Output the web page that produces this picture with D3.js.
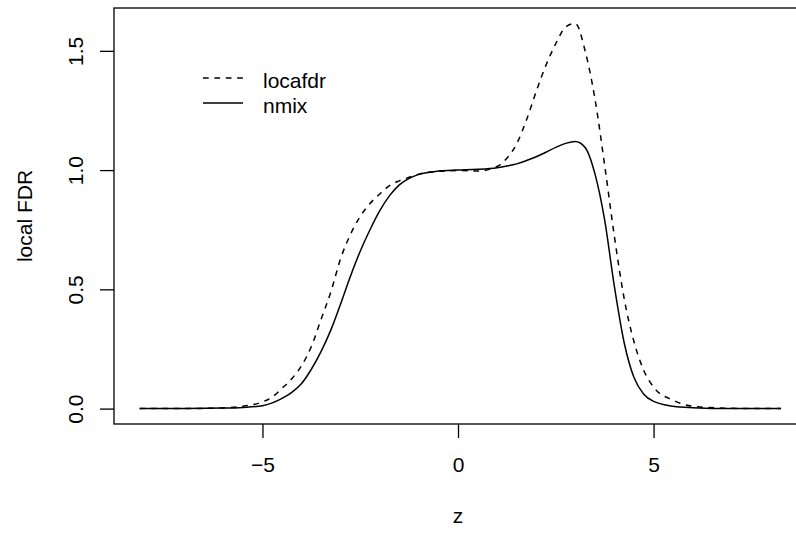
<!DOCTYPE html>
<html>
<head>
<meta charset="utf-8">
<script src="https://cdn.jsdelivr.net/npm/d3@7"></script>
<style>
  body { margin: 0; background: #fff; }
  text { font-family: "Liberation Sans", Arial, sans-serif; fill: #000; }
</style>
</head>
<body>
<div class="chart"></div>
<script>
// values
var zValues = [-8.14, -7, -6, -5.5, -5, -4.75, -4.5, -4.25, -4, -3.75, -3.5, -3.25, -3, -2.75,
  -2.5, -2.25, -2, -1.75, -1.5, -1.25, -1, -0.5, 0, 0.5, 1, 1.25, 1.5, 1.75, 2, 2.25, 2.5,
  2.75, 3, 3.25, 3.5, 3.75, 4, 4.25, 4.5, 4.75, 5, 5.5, 6, 7, 8.26];

var locfdrValues = [0, 0, 0.003, 0.01, 0.028, 0.048, 0.085, 0.125, 0.18, 0.26, 0.375, 0.49, 0.63, 0.73,
  0.806, 0.86, 0.9, 0.935, 0.955, 0.97, 0.983, 0.995, 0.998, 0.996, 1.015, 1.05, 1.11, 1.21, 1.33, 1.44, 1.53,
  1.60, 1.615, 1.50, 1.30, 1.02, 0.72, 0.46, 0.28, 0.16, 0.09, 0.035, 0.01, 0.001, 0];

var nmixValues = [0, 0, 0.002, 0.005, 0.012, 0.024, 0.043, 0.068, 0.105, 0.165, 0.24, 0.33, 0.44, 0.555,
  0.66, 0.75, 0.83, 0.893, 0.938, 0.965, 0.982, 0.996, 1.0, 1.003, 1.01, 1.017, 1.026, 1.04, 1.056, 1.075, 1.095,
  1.112, 1.12, 1.095, 0.985, 0.79, 0.51, 0.275, 0.13, 0.06, 0.03, 0.01, 0.004, 0, 0];

var seriesNames = ["locafdr", "nmix"];
var xTicks = [-5, 0, 5];
var yTicks = [0, 0.5, 1, 1.5];

var svgWidth = 796;
var svgHeight = 533;
var plot = { left: 114, top: 8, bottom: 424 };
var fontSize = 21;

var svg = d3.select(".chart")
  .append("svg")
  .attr("width", svgWidth)
  .attr("height", svgHeight);

// R style 4% padding around the data range
var xExt = d3.extent(zValues);
var xPad = (xExt[1] - xExt[0]) * 0.04;
var yMax = d3.max(locfdrValues.concat(nmixValues));
var yPad = yMax * 0.04;

var xDomain = [xExt[0] - xPad, xExt[1] + xPad];
var pxPerUnit = 39.11;
var plotRight = plot.left + (xDomain[1] - xDomain[0]) * pxPerUnit;

var x = d3.scaleLinear().domain(xDomain).range([plot.left, plotRight]);
var y = d3.scaleLinear().domain([-yPad, yMax + yPad]).range([plot.bottom, plot.top]);

// box
svg.append("rect")
  .attr("x", plot.left)
  .attr("y", plot.top)
  .attr("width", plotRight - plot.left)
  .attr("height", plot.bottom - plot.top)
  .attr("fill", "none")
  .attr("stroke", "#000")
  .attr("stroke-width", 1.3);

// axes
var xAxis = svg.append("g")
  .attr("transform", "translate(0," + plot.bottom + ")")
  .call(d3.axisBottom(x).tickValues(xTicks).tickSize(14).tickPadding(0)
    .tickFormat(function(d) { return d < 0 ? "\u2212" + Math.abs(d) : d; }));
xAxis.select(".domain").remove();
xAxis.selectAll("line").attr("stroke", "#000").attr("stroke-width", 1.3);
xAxis.selectAll("text")
  .attr("y", 48)
  .attr("dy", null)
  .style("font-size", fontSize + "px")
  .style("font-family", "Liberation Sans, Arial, sans-serif")
  .attr("fill", "#000");

var yAxis = svg.append("g")
  .attr("transform", "translate(" + plot.left + ",0)")
  .call(d3.axisLeft(y).tickValues(yTicks).tickSize(14)
    .tickFormat(d3.format(".1f")));
yAxis.select(".domain").remove();
yAxis.selectAll("line").attr("stroke", "#000").attr("stroke-width", 1.3);
yAxis.selectAll("text").remove();
yAxis.selectAll(".tick").append("text")
  .attr("transform", "translate(-31,0) rotate(-90)")
  .attr("text-anchor", "middle")
  .style("font-size", fontSize + "px")
  .text(function(d) { return d3.format(".1f")(d); });

// axis titles
svg.append("text")
  .attr("x", x(0))
  .attr("y", 523)
  .attr("text-anchor", "middle")
  .style("font-size", fontSize + "px")
  .text("z");

svg.append("text")
  .attr("transform", "translate(32," + ((plot.top + plot.bottom) / 2) + ") rotate(-90)")
  .attr("text-anchor", "middle")
  .style("font-size", fontSize + "px")
  .text("local FDR");

// curves
var line = d3.line()
  .x(function(d) { return x(d[0]); })
  .y(function(d) { return y(d[1]); })
  .curve(d3.curveMonotoneX);

var dashPattern = "5.7,5.7";

svg.append("path")
  .datum(d3.zip(zValues, locfdrValues))
  .attr("d", line)
  .attr("fill", "none")
  .attr("stroke", "#000")
  .attr("stroke-width", 1.5)
  .attr("stroke-dasharray", dashPattern);

svg.append("path")
  .datum(d3.zip(zValues, nmixValues))
  .attr("d", line)
  .attr("fill", "none")
  .attr("stroke", "#000")
  .attr("stroke-width", 1.5);

// legend
var legend = svg.append("g");
seriesNames.forEach(function(name, i) {
  var ly = 78 + i * 25;
  legend.append("line")
    .attr("x1", 203).attr("x2", 243)
    .attr("y1", ly).attr("y2", ly)
    .attr("stroke", "#000")
    .attr("stroke-width", 1.5)
    .attr("stroke-dasharray", i === 0 ? dashPattern : null);
  legend.append("text")
    .attr("x", 263)
    .attr("y", ly + 9.5)
    .style("font-size", fontSize + "px")
    .text(name);
});
</script>
</body>
</html>
